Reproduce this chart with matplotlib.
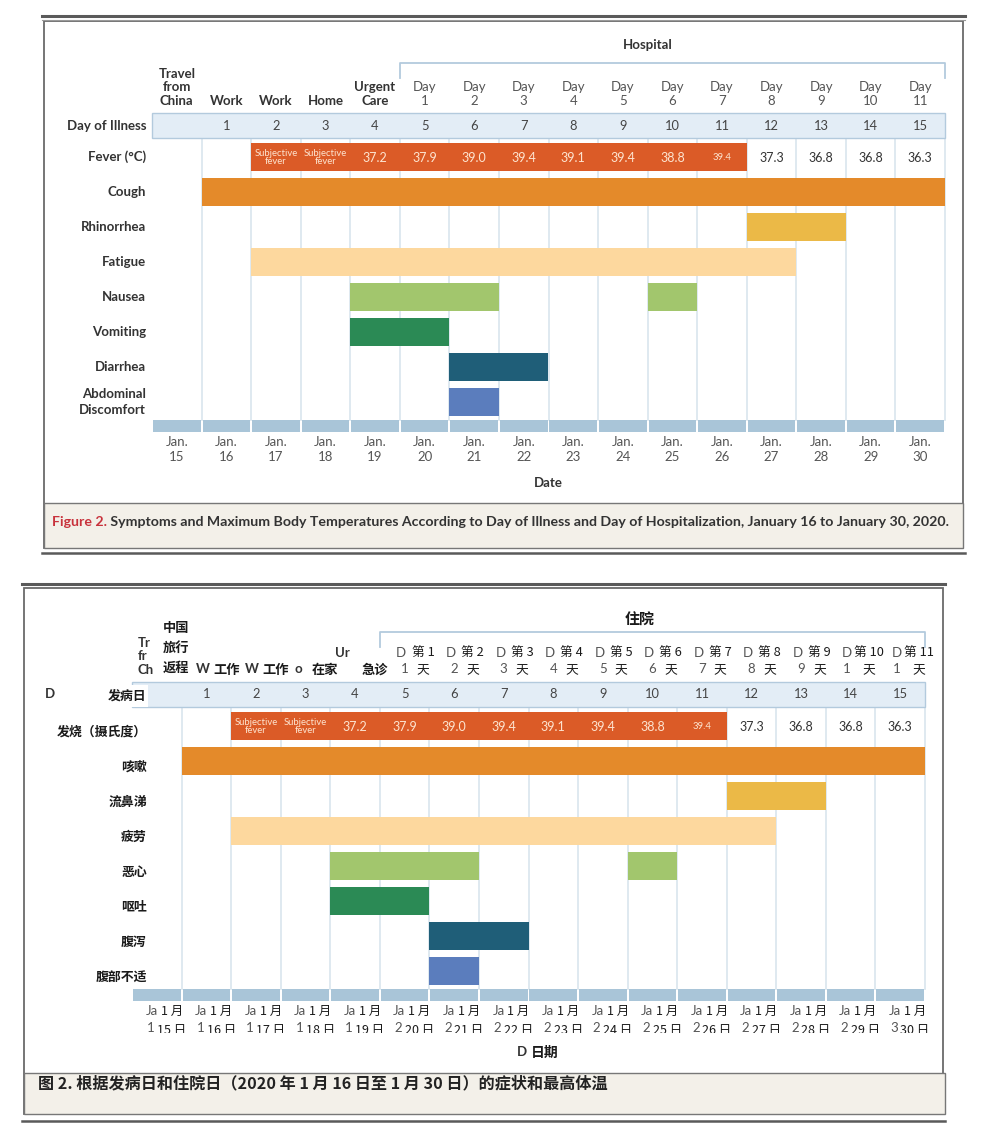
import matplotlib

matplotlib.use("Agg")
import matplotlib.pyplot as plt
from matplotlib.patches import Rectangle

W, H = 986, 1136
FAM = ["Lato", "DejaVu Sans"]
FAM_ZH = ["Noto Sans CJK SC", "DejaVu Sans"]
plt.rcParams["font.family"] = FAM

# ---- data ----
dates = list(range(15, 31))  # Jan. 15 .. Jan. 30
places = ["Travel\nfrom\nChina", "Work", "Work", "Home", "Urgent\nCare"]
hospital_days = list(range(1, 12))
illness_days = ["", "1", "2", "3", "4", "5", "6", "7", "8", "9", "10", "11", "12", "13", "14", "15"]
fever_text = ["", "", "Subjective\nfever", "Subjective\nfever", "37.2", "37.9", "39.0", "39.4",
              "39.1", "39.4", "38.8", "39.4", "37.3", "36.8", "36.8", "36.3"]
fever_span = (17, 26)
symptoms = ["Cough", "Rhinorrhea", "Fatigue", "Nausea", "Vomiting", "Diarrhea", "Abdominal\nDiscomfort"]
symptom_spans = [[(16, 30)], [(27, 28)], [(17, 27)], [(19, 21), (25, 25)], [(19, 20)], [(21, 22)], [(21, 21)]]
symptom_colors = ["#e48a2a", "#ebb947", "#fdd89e", "#a2c66d", "#2b8a55", "#1f5e78", "#5b7dbd"]
fever_color = "#db5b27"

# Chinese translation (lower panel) and the bits of English it leaves showing
zh_rows = ["发烧（摄氏度）", "咳嗽", "流鼻涕", "疲劳", "恶心", "呕吐", "腹泻", "腹部不适"]
zh_illness = "发病日"
zh_places = ["中国\n旅行\n返程", "工作", "工作", "在家", "急诊"]
zh_days = [f"第 {d}\n天" for d in hospital_days]
zh_dates = [f"1 月\n{d} 日" for d in dates]
zh_hospital = "住院"
zh_date_title = "日期"
zh_caption = "图 2. 根据发病日和住院日（2020 年 1 月 16 日至 1 月 30 日）的症状和最高体温"
place_bits = ["Tr\nfr\nCh", "W", "W", "o", "Ur"]

# ---- layout ----
ROW = 35.0
Y_DAY, Y_BOT = -0.9, 7.686
TXT = "#333333"
GRID = "#dce7ef"


def chart_axes(fig, left_px, fever_px):
    top, bot = -3.7, 9.8
    top_px, bot_px = fever_px + top * ROW, fever_px + bot * ROW
    ax = fig.add_axes([left_px / W, 1 - bot_px / H, 793 / W, (bot_px - top_px) / H])
    ax.set_xlim(0, 16)
    ax.set_ylim(bot, top)
    ax.axis("off")
    return ax


def draw_chart(ax):
    ax.add_patch(Rectangle((0, Y_DAY - 0.36), 16, 0.72, fc="#e3edf6", ec="#b3cadd", lw=1, clip_on=False))
    for c in range(1, 17):
        ax.plot([c, c], [Y_DAY + 0.36, Y_BOT - 0.17], color=GRID, lw=1.3, zorder=0.5, clip_on=False)
    for c in range(16):
        ax.add_patch(Rectangle((c + 0.02, Y_BOT - 0.17), 0.96, 0.34, fc="#a9c5d8", ec="none", clip_on=False))
    ax.plot([5, 5, 16, 16], [-2.26, -2.69, -2.69, -2.26], color="#b3cadd", lw=1.3, clip_on=False)

    for c, d in enumerate(illness_days):
        ax.text(c + 0.5, Y_DAY, d, ha="center", va="center", fontsize=9.3, color="#444444")

    f0, f1 = fever_span
    ax.barh(0, f1 - f0 + 1, left=f0 - dates[0], height=0.8, color=fever_color, zorder=2)
    for c, t in enumerate(fever_text):
        inside = f0 - dates[0] <= c <= f1 - dates[0]
        size = 9
        if "\n" in t:
            size = 6.8
        elif c == f1 - dates[0]:
            size = 6.8
        ax.text(c + 0.5, 0.02, t, ha="center", va="center", fontsize=size, linespacing=0.85,
                color="#fde4d0" if inside else TXT, zorder=3)

    for r, (spans, col) in enumerate(zip(symptom_spans, symptom_colors), start=1):
        for s, e in spans:
            ax.barh(r, e - s + 1, left=s - dates[0], height=0.8, color=col, zorder=2)


def english_labels(ax):
    for c, p in enumerate(places):
        ax.text(c + 0.5, -1.43, p, ha="center", va="bottom", fontsize=9.5, fontweight="bold",
                color=TXT, linespacing=1.15)
    for i, d in enumerate(hospital_days):
        ax.text(i + 5.5, -1.43, f"Day\n{d}", ha="center", va="bottom", fontsize=9.5, color="#555555",
                linespacing=1.15)
    ax.text(10.0, -3.2, "Hospital", ha="center", va="center", fontsize=9.5, fontweight="bold", color=TXT)
    ax.text(-0.12, Y_DAY, "Day of Illness", ha="right", va="center", fontsize=9.5, fontweight="bold", color=TXT)
    ax.text(-0.12, 0, "Fever (°C)", ha="right", va="center", fontsize=9.5, fontweight="bold", color=TXT)
    for r, name in enumerate(symptoms, start=1):
        ax.text(-0.12, r, name, ha="right", va="center", fontsize=9.5, fontweight="bold", color=TXT,
                linespacing=1.3)
    for c, d in enumerate(dates):
        ax.text(c + 0.5, 7.97, f"Jan.\n{d}", ha="center", va="top", fontsize=9.5, color="#555555",
                linespacing=1.3)
    ax.text(8.0, 9.31, "Date", ha="center", va="center", fontsize=9.5, fontweight="bold", color=TXT)


def mask(ax, x0, x1, y0, y1, z=5):
    ax.add_patch(Rectangle((x0, y0), x1 - x0, y1 - y0, fc="white", ec="none", zorder=z, clip_on=False))


def zh_labels(ax):
    kw = dict(family=FAM_ZH, zorder=6, color="#1a1a1a")
    frag = dict(fontsize=9.5, color="#555555", zorder=4)
    # row labels
    ax.text(-1.76, Y_DAY, "D", ha="left", va="center", fontweight="bold", fontsize=9.5, color=TXT)
    mask(ax, -1.55, 0.32, -1.17, -0.54)
    ax.text(0.3, Y_DAY + 0.02, zh_illness, ha="right", va="center", fontsize=9.3, fontweight="bold", **kw)
    for r, t in enumerate(zh_rows):
        ax.text(0.3, r + 0.17, t, ha="right", va="center", fontsize=9.3, fontweight="bold", **kw)
    # header places
    for c, (t, bit) in enumerate(zip(zh_places, place_bits)):
        if c == 0:
            ax.text(0.12, -1.43, bit, ha="left", va="bottom", fontsize=9.5, fontweight="bold",
                    color=TXT, linespacing=1.15)
            ax.text(c + 0.62, -2.23, t, ha="left", va="center", fontsize=9.5, fontweight="bold",
                    linespacing=1.55, **kw)
        else:
            yb = -2.09 if c == 4 else -1.63
            xb = c + 0.1 if c == 4 else c + 0.28
            ax.text(xb, yb, bit, ha="left", va="center", fontsize=9.5, fontweight="bold", color=TXT)
            ax.text(c + 0.9, -1.6, t, ha="center", va="center", fontsize=9.5, fontweight="bold", **kw)
    # hospital days
    for i, t in enumerate(zh_days):
        c = i + 5
        ax.text(c + 0.33, -2.09, "D", ha="left", va="center", **frag)
        ax.text(c + 0.5, -1.63, str(hospital_days[i])[0], ha="right" if i >= 9 else "center",
                va="center", **frag)
        ax.text(c + 0.87, -1.84, t, ha="center", va="center", fontsize=9.2, linespacing=1.6,
                multialignment="center", **kw)
    ax.text(10.25, -3.03, zh_hospital, ha="center", va="center", fontsize=10.8, fontweight="bold", **kw)
    # dates
    for c, t in enumerate(zh_dates):
        ax.text(c + 0.27, 8.13, "Ja", ha="left", va="center", **frag)
        ax.text(c + 0.3, 8.62, str(dates[c])[0], ha="left", va="center", **frag)
        ax.text(c + 0.8, 7.98, t, ha="center", va="top", fontsize=9, linespacing=1.6,
                multialignment="center", **kw)
    mask(ax, -0.2, 16.2, 8.76, 9.0, z=7)
    ax.text(7.76, 9.31, "D", ha="left", va="center", fontweight="bold", fontsize=9.5, color=TXT, zorder=4)
    ax.text(8.33, 9.34, zh_date_title, ha="center", va="center", fontsize=10, fontweight="bold", **kw)


fig = plt.figure(figsize=(W / 100, H / 100), dpi=100)
bg = fig.add_axes([0, 0, 1, 1])
bg.set_xlim(0, W)
bg.set_ylim(H, 0)
bg.axis("off")

# ---- frames ----
# top panel
bg.plot([42, 965], [16, 16], color="#5a5a5a", lw=2.2)
bg.plot([42, 965], [19.5, 19.5], color="#9a9a9a", lw=0.8)
bg.add_patch(Rectangle((44, 21), 919, 527, fc="none", ec="#6a6a6a", lw=1.3))
bg.add_patch(Rectangle((44, 503), 919, 45, fc="#f3f0e9", ec="#777777", lw=1))
bg.plot([42, 965], [553, 553], color="#5a5a5a", lw=1.8)
t1 = bg.text(52, 522, "Figure 2.", ha="left", va="center", fontsize=10.2, fontweight="bold", color="#c8323c")
bg.annotate(" Symptoms and Maximum Body Temperatures According to Day of Illness and Day of "
            "Hospitalization, January 16 to January 30, 2020.",
            xy=(1, 0.5), xycoords=t1, ha="left", va="center", fontsize=10.2, fontweight="bold",
            color="#333333")

# bottom panel
bg.plot([22, 945], [583.5, 583.5], color="#5a5a5a", lw=2.2)
bg.add_patch(Rectangle((24, 588), 919, 526, fc="none", ec="#6a6a6a", lw=1.3))
bg.add_patch(Rectangle((24, 1073), 921, 41, fc="#f3f0e9", ec="#777777", lw=1))
bg.plot([22, 945], [1121, 1121], color="#5a5a5a", lw=1.8)
bg.text(38, 1083, zh_caption, ha="left", va="center", fontsize=11.6, fontweight="bold",
        family=FAM_ZH, color="#222222")

ax_top = chart_axes(fig, 152, 157)
draw_chart(ax_top)
english_labels(ax_top)

ax_bot = chart_axes(fig, 132, 726)
draw_chart(ax_bot)
zh_labels(ax_bot)

fig.savefig("out.png", dpi=100)
